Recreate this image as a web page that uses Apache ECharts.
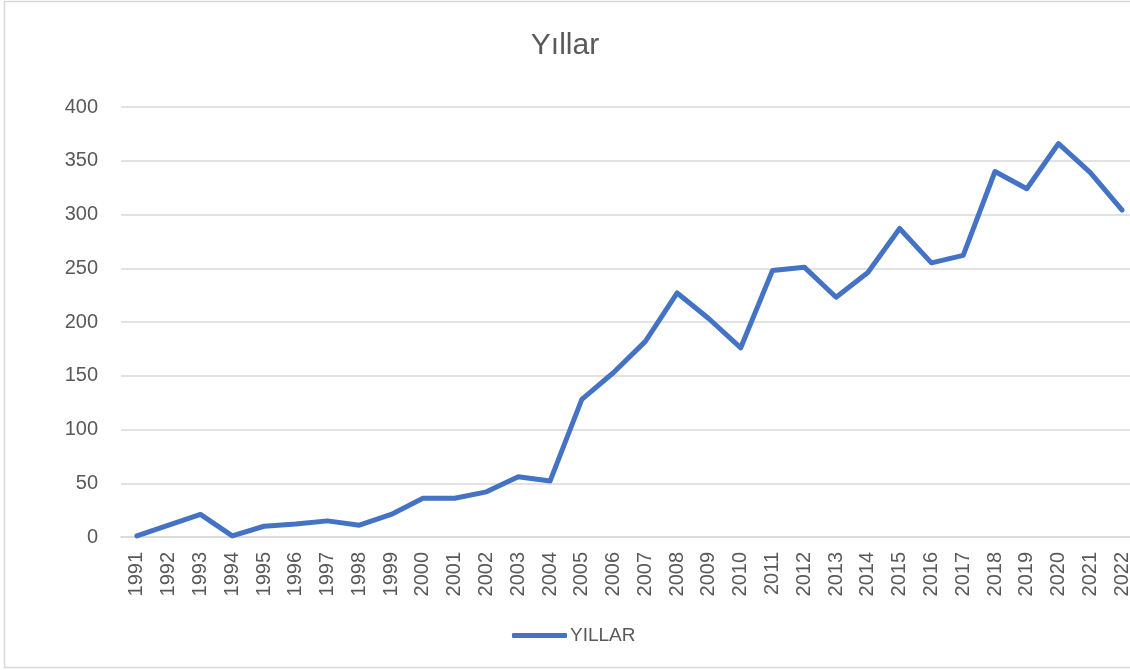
<!DOCTYPE html>
<html>
<head>
<meta charset="utf-8">
<script src="https://cdn.jsdelivr.net/npm/echarts@6/dist/echarts.min.js"></script>
<style>
  html, body { margin: 0; padding: 0; background: #fff; }
  #chart { width: 1130px; height: 670px; }
</style>
</head>
<body>
<div id="chart"></div>
<script>
var years = [
  "1991", "1992", "1993", "1994", "1995", "1996", "1997", "1998",
  "1999", "2000", "2001", "2002", "2003", "2004", "2005", "2006",
  "2007", "2008", "2009", "2010", "2011", "2012", "2013", "2014",
  "2015", "2016", "2017", "2018", "2019", "2020", "2021", "2022"
];
var values = [
  1, 11, 21, 1, 10, 12, 15, 11,
  21, 36, 36, 42, 56, 52, 128, 153,
  182, 227, 203, 176, 248, 251, 223, 246,
  287, 255, 262, 340, 324, 366, 339, 304
];
var seriesName = "YILLAR";
var titleText = "Yıllar";

var font = "'Liberation Sans', Arial, sans-serif";
var textColor = "#595959";

var myChart = echarts.init(document.getElementById("chart"));

var option = {
  animation: false,
  backgroundColor: "#fff",
  textStyle: { fontFamily: font },
  title: {
    text: titleText,
    left: "center",
    top: 26,
    textStyle: {
      fontFamily: font,
      fontSize: 30,
      fontWeight: "normal",
      color: textColor
    }
  },
  legend: {
    data: [seriesName],
    left: 507,
    top: 621,
    icon: "roundRect",
    itemWidth: 55,
    itemHeight: 5,
    itemGap: 10,
    itemStyle: { color: "#4472c4" },
    textStyle: { fontFamily: font, fontSize: 19, color: textColor, padding: [0, 0, 0, -2] }
  },
  grid: {
    left: 121,
    width: 1017,
    top: 107,
    bottom: 133,
    containLabel: false,
    outerBoundsMode: "none"
  },
  xAxis: {
    type: "category",
    data: years,
    boundaryGap: true,
    axisLine: { show: true, lineStyle: { color: "#d9d9d9", width: 1.5 } },
    axisTick: { show: false },
    axisLabel: {
      rotate: 90,
      interval: 0,
      margin: 15,
      fontFamily: font,
      fontSize: 20,
      color: textColor
    },
    splitLine: { show: false }
  },
  yAxis: {
    type: "value",
    min: 0,
    max: 400,
    interval: 50,
    axisLine: { show: false },
    axisTick: { show: false },
    axisLabel: {
      margin: 23,
      fontFamily: font,
      fontSize: 20,
      color: textColor
    },
    splitLine: { lineStyle: { color: "#d9d9d9", width: 1.5 } }
  },
  graphic: [
    {
      type: "rect",
      silent: true,
      shape: { x: 4.5, y: 1.5, width: 1140, height: 666 },
      style: { fill: "none", stroke: "#d9d9d9", lineWidth: 1.5 }
    }
  ],
  series: [
    {
      name: seriesName,
      type: "line",
      data: values,
      symbol: "none",
      lineStyle: { color: "#4472c4", width: 5, cap: "round", join: "round" },
      itemStyle: { color: "#4472c4" }
    }
  ]
};

myChart.setOption(option);
</script>
</body>
</html>
